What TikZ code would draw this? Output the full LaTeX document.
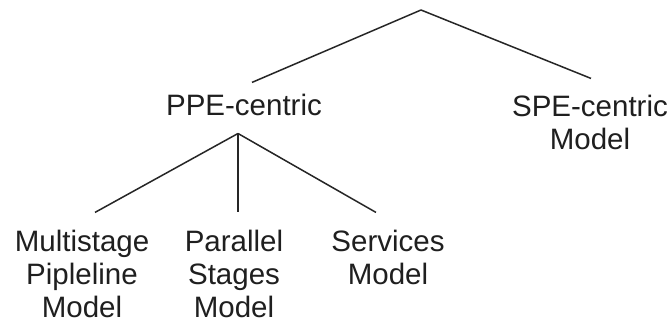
\documentclass[tikz,border=0pt]{standalone}
\usepackage{fontspec}
\setmainfont{Liberation Sans}
\begin{document}
\begin{tikzpicture}[x=1pt,y=-1pt,
  label/.style={inner sep=0pt, anchor=base, align=center, text=black!88,
    font=\fontsize{29.5}{33}\selectfont},
  branch/.style={draw=black!85, line width=1.5pt}]
\useasboundingbox (0,0) rectangle (672,328);
\fill[white] (0,0) rectangle (672,328);

% taxonomy root and its two families (positions give the last baseline)
\coordinate (root) at (421,10);
\node[label] (ppe) at (244,116) {PPE-centric};
\node[label] (spe) at (590,150) {SPE-centric\\Model};

% PPE-centric sub-models
\node[label] (multi) at (82,318) {Multistage\\Pipleline\\Model};
\node[label] (par) at (234,318) {Parallel\\Stages\\Model};
\node[label] (serv) at (388,285) {Services\\Model};

% branch point below PPE-centric
\coordinate (fork) at ([xshift=-6pt,yshift=-17pt]ppe.south);

\draw[branch] (root) -- ([xshift=8pt,yshift=12pt]ppe.north);
\draw[branch] (root) -- ([xshift=1pt,yshift=17pt]spe.north);
\draw[branch] (fork) -- ([xshift=13pt,yshift=18pt]multi.north);
\draw[branch] (fork) -- ([xshift=4pt,yshift=18pt]par.north);
\draw[branch] (fork) -- ([xshift=-12pt,yshift=18pt]serv.north);
\end{tikzpicture}
\end{document}
